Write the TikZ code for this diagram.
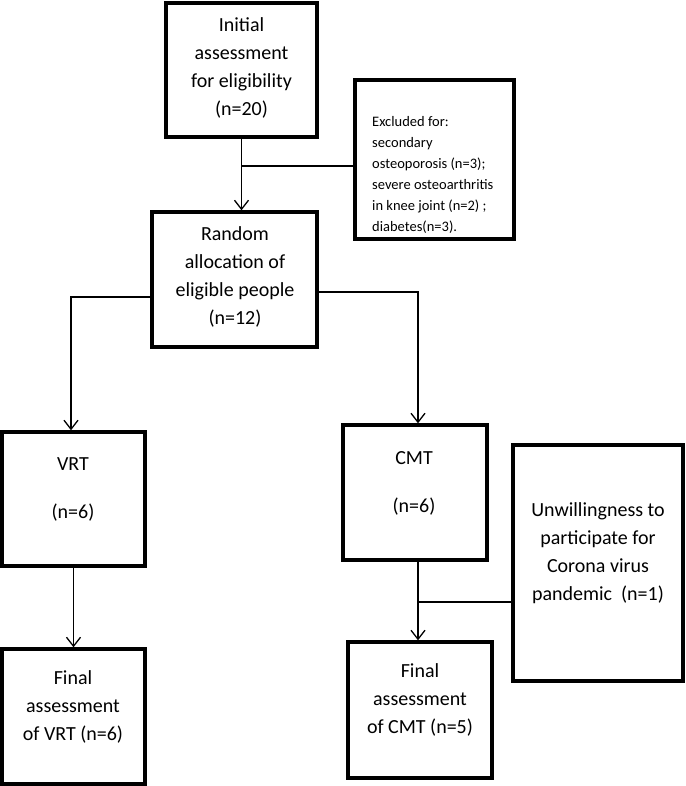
\documentclass[tikz,border=0pt]{standalone}
\usepackage{fontspec}
\setmainfont{Carlito}
\usetikzlibrary{arrows.meta}
\begin{document}
\begin{tikzpicture}[x=1pt,y=-1pt,
  box/.style={draw, line width=3.4pt, inner sep=0pt},
  txt/.style={font=\fontsize{20}{28}\selectfont, align=center, inner sep=0pt},
  small/.style={font=\fontsize{14.5}{21}\selectfont, align=left, inner sep=0pt, anchor=west},
  conn/.style={line width=1.3pt},
  arr/.style={conn, -{Straight Barb[length=9pt,width=14pt]}}]
\useasboundingbox (0,0) rectangle (685,786);
% boxes
\node[box, minimum width=151pt, minimum height=134pt] (init) at (241.5,70) {};
\node[box, minimum width=159pt, minimum height=159pt] (excl) at (434.5,159.5) {};
\node[box, minimum width=165pt, minimum height=135pt] (rand) at (234.5,279.5) {};
\node[box, minimum width=143pt, minimum height=134pt] (vrt) at (73.5,499) {};
\node[box, minimum width=144pt, minimum height=135pt] (cmt) at (415,492.5) {};
\node[box, minimum width=170pt, minimum height=236pt] (unw) at (598,563) {};
\node[box, minimum width=143pt, minimum height=135pt] (fvrt) at (73.5,716.5) {};
\node[box, minimum width=144pt, minimum height=136pt] (fcmt) at (420,710) {};
% texts
\node[txt] (tinit) at (241.5,68) {Initial\\assessment\\for eligibility\\(n=20)};
\node[small] (texcl) at (372,174.5) {Excluded for:\\secondary\\osteoporosis (n=3);\\severe osteoarthritis\\in knee joint (n=2) ;\\diabetes(n=3).};
\node[txt] (trand) at (235,276.5) {Random\\allocation of\\eligible people\\(n=12)};
\node[txt] (tvrt) at (73,489) {VRT\\[20pt](n=6)};
\node[txt] (tcmt) at (414,483) {CMT\\[20pt](n=6)};
\node[txt] (tunw) at (598,553) {Unwillingness to\\participate for\\Corona virus\\pandemic~~(n=1)};
\node[txt] (tfvrt) at (73,706.5) {Final\\assessment\\of VRT (n=6)};
\node[txt] (tfcmt) at (420,699.5) {Final\\assessment\\of CMT (n=5)};
% helper coordinates
\coordinate (m1) at (241,166);
\coordinate (c1) at (71,297);
\coordinate (c2) at (418,292);
\coordinate (c3) at (418,602);
% connectors
\draw[arr] (init.south) -- (init.south |- rand.north);
\draw[conn] (init.south |- m1) -- (excl.west |- m1);
\draw[arr] (rand.west |- c1) -- (c1) -- (c1 |- vrt.north);
\draw[arr] (rand.east |- c2) -- (c2) -- (c2 |- cmt.north);
\draw[arr] (vrt.south) -- (fvrt.north);
\draw[arr] (c2 |- cmt.south) -- (c2 |- fcmt.north);
\draw[conn] (unw.west |- c3) -- (c3);
\end{tikzpicture}
\end{document}
